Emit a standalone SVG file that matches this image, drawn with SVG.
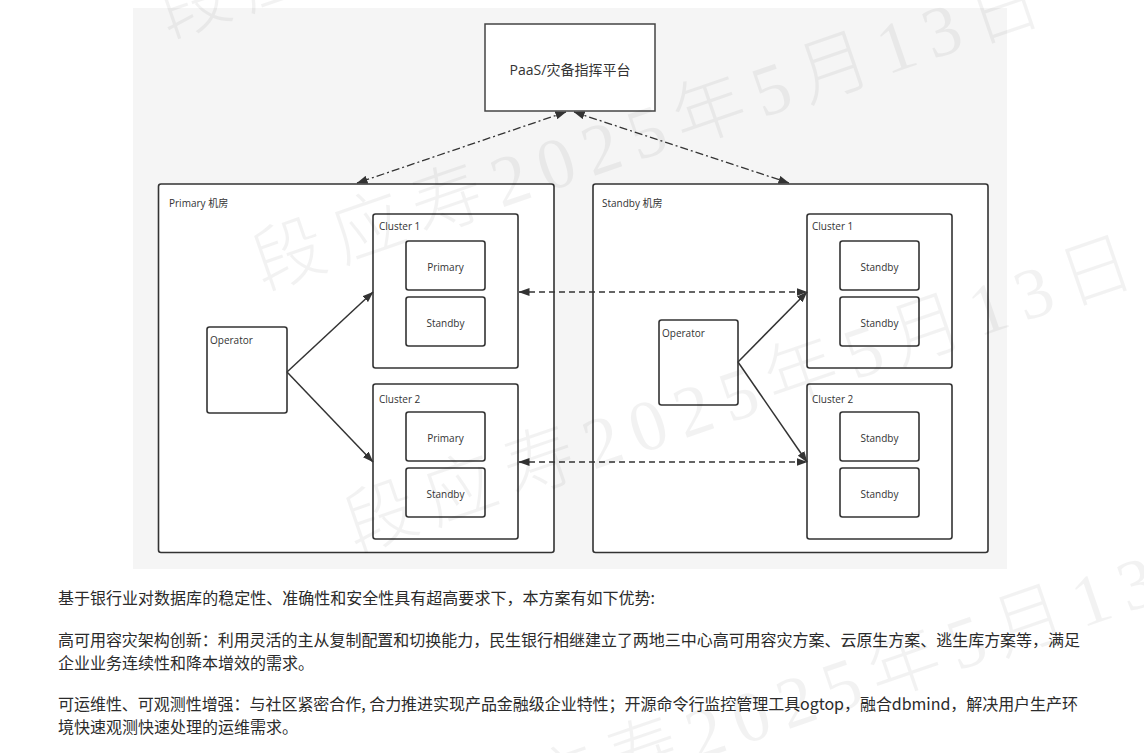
<svg xmlns="http://www.w3.org/2000/svg" width="1144" height="753" viewBox="0 0 1144 753">
  <style>
    .box { fill: #ffffff; stroke: #333333; stroke-width: 1.6; }
    .lbl { font-family: "Open Sans", "Noto Sans CJK SC", sans-serif; font-size: 10px; fill: #333333; }
    .mid { text-anchor: middle; }
    .link { fill: none; stroke: #333333; stroke-width: 1.5; }
    .dashdot { stroke-dasharray: 8 3 2 3; stroke-width: 1.3; }
    .dash { stroke-dasharray: 6 4; }
    .para { font-family: "Noto Sans CJK SC", "Noto Sans", sans-serif; font-size: 16px; fill: #2b2b2b; }
    .wm { font-family: "Liberation Serif", "Noto Sans CJK SC", serif; font-size: 72px; font-weight: 300; letter-spacing: 12px; fill: #000000; fill-opacity: 0.05; }
  </style>
  <defs>
    <marker id="arrow" markerUnits="userSpaceOnUse" markerWidth="11" markerHeight="8" viewBox="0 0 11 8" refX="10.5" refY="4" orient="auto-start-reverse">
      <path d="M0,0 L11,4 L0,8 z" fill="#333333"/>
    </marker>
  </defs>

  <rect width="1144" height="753" fill="#ffffff"/>
  <!-- diagram canvas -->
  <rect x="133" y="8" width="874" height="561" fill="#f5f5f5"/>

  <g id="paas">
    <rect x="485" y="24" width="170" height="87" fill="#ffffff" stroke="#444444" stroke-width="1.5"/>
    <text x="570" y="75" class="lbl mid" style="font-size:14px">PaaS/灾备指挥平台</text>
  </g>

  <g id="primary-room">
    <rect class="box" x="158.5" y="184" width="395.5" height="368.5" rx="2.5"/>
    <text x="169" y="207" class="lbl">Primary 机房</text>
  </g>
  <g id="primary-operator">
    <rect class="box" x="207" y="327" width="80" height="86" rx="2.5"/>
    <text x="210" y="344" class="lbl">Operator</text>
  </g>
  <g id="primary-cluster1">
    <rect class="box" x="373" y="214" width="145" height="154" rx="2.5"/>
    <text x="379" y="230" class="lbl">Cluster 1</text>
    <rect class="box" x="406" y="241" width="79" height="49" rx="2.5"/>
    <text x="445.5" y="271" class="lbl mid">Primary</text>
    <rect class="box" x="406" y="297" width="79" height="49" rx="2.5"/>
    <text x="445.5" y="327" class="lbl mid">Standby</text>
  </g>
  <g id="primary-cluster2">
    <rect class="box" x="373" y="384" width="145" height="155" rx="2.5"/>
    <text x="379" y="403" class="lbl">Cluster 2</text>
    <rect class="box" x="406" y="412" width="79" height="49" rx="2.5"/>
    <text x="445.5" y="442" class="lbl mid">Primary</text>
    <rect class="box" x="406" y="468" width="79" height="49" rx="2.5"/>
    <text x="445.5" y="498" class="lbl mid">Standby</text>
  </g>

  <g id="standby-room">
    <rect class="box" x="593" y="184" width="395" height="368.5" rx="2.5"/>
    <text x="602" y="207" class="lbl">Standby 机房</text>
  </g>
  <g id="standby-operator">
    <rect class="box" x="659" y="320" width="79" height="85" rx="2.5"/>
    <text x="662" y="337" class="lbl">Operator</text>
  </g>
  <g id="standby-cluster1">
    <rect class="box" x="807" y="214" width="145" height="154" rx="2.5"/>
    <text x="812" y="230" class="lbl">Cluster 1</text>
    <rect class="box" x="840" y="241" width="79" height="49" rx="2.5"/>
    <text x="879.5" y="271" class="lbl mid">Standby</text>
    <rect class="box" x="840" y="297" width="79" height="49" rx="2.5"/>
    <text x="879.5" y="327" class="lbl mid">Standby</text>
  </g>
  <g id="standby-cluster2">
    <rect class="box" x="807" y="384" width="145" height="155" rx="2.5"/>
    <text x="812" y="403" class="lbl">Cluster 2</text>
    <rect class="box" x="840" y="412" width="79" height="49" rx="2.5"/>
    <text x="879.5" y="442" class="lbl mid">Standby</text>
    <rect class="box" x="840" y="468" width="79" height="49" rx="2.5"/>
    <text x="879.5" y="498" class="lbl mid">Standby</text>
  </g>

  <g id="connectors">
    <!-- platform to both rooms -->
    <line class="link dashdot" x1="566" y1="112" x2="357" y2="183" marker-start="url(#arrow)" marker-end="url(#arrow)"/>
    <line class="link dashdot" x1="574" y1="112" x2="789" y2="183" marker-start="url(#arrow)" marker-end="url(#arrow)"/>
    <!-- operators to clusters -->
    <line class="link" x1="287" y1="372" x2="373" y2="292" marker-end="url(#arrow)"/>
    <line class="link" x1="287" y1="372" x2="373" y2="462" marker-end="url(#arrow)"/>
    <line class="link" x1="738" y1="362" x2="807" y2="292" marker-end="url(#arrow)"/>
    <line class="link" x1="738" y1="362" x2="807" y2="462" marker-end="url(#arrow)"/>
    <!-- cross-room replication -->
    <line class="link dash" x1="519" y1="292" x2="807" y2="292" marker-start="url(#arrow)" marker-end="url(#arrow)"/>
    <line class="link dash" x1="519" y1="462" x2="807" y2="462" marker-start="url(#arrow)" marker-end="url(#arrow)"/>
  </g>

  <g id="description">
    <text x="58" y="604" class="para" textLength="597" lengthAdjust="spacing">基于银行业对数据库的稳定性、准确性和安全性具有超高要求下，本方案有如下优势:</text>
    <text x="58" y="646" class="para" textLength="1022" lengthAdjust="spacing">高可用容灾架构创新：利用灵活的主从复制配置和切换能力，民生银行相继建立了两地三中心高可用容灾方案、云原生方案、逃生库方案等，满足</text>
    <text x="58" y="669" class="para">企业业务连续性和降本增效的需求。</text>
    <text x="58" y="710" class="para" textLength="1020" lengthAdjust="spacing">可运维性、可观测性增强：与社区紧密合作, 合力推进实现产品金融级企业特性；开源命令行监控管理工具ogtop，融合dbmind，解决用户生产环</text>
    <text x="58" y="733" class="para">境快速观测快速处理的运维需求。</text>
  </g>

  <!-- faint diagonal watermark -->
  <g id="watermark">
    <text class="wm" transform="translate(168 38) rotate(-19)">段应寿2025年5月13日</text>
    <text class="wm" transform="translate(263 290) rotate(-19)">段应寿2025年5月13日</text>
    <text class="wm" transform="translate(355 552) rotate(-19)">段应寿2025年5月13日</text>
    <text class="wm" transform="translate(458 843) rotate(-19)">段应寿2025年5月13日</text>
  </g>
</svg>
